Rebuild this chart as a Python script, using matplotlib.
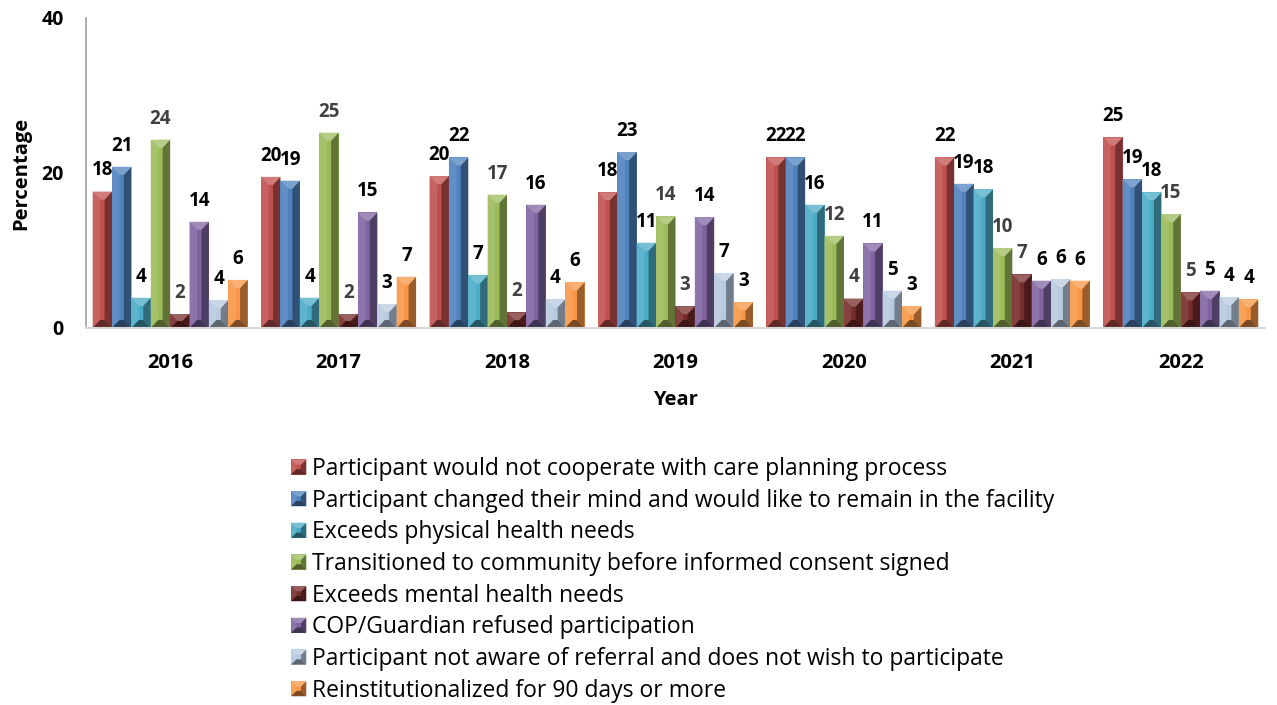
import numpy as np
import matplotlib.pyplot as plt
from matplotlib.patches import Polygon
from matplotlib.legend_handler import HandlerBase
from matplotlib.colors import to_rgb

plt.rcParams['font.family'] = ['Open Sans', 'DejaVu Sans']

years = ['2016', '2017', '2018', '2019', '2020', '2021', '2022']

series = [
    'Participant would not cooperate with care planning process',
    'Participant changed their mind and would like to remain in the facility',
    'Exceeds physical health needs',
    'Transitioned to community before informed consent signed',
    'Exceeds mental health needs',
    'COP/Guardian refused participation',
    'Participant not aware of referral and does not wish to participate',
    'Reinstitutionalized for 90 days or more',
]

not_cooperate = [17.6, 19.5, 19.6, 17.5, 22.0, 22.0, 24.6]
changed_mind = [20.8, 19.0, 22.0, 22.7, 22.0, 18.6, 19.2]
physical = [3.9, 3.9, 6.8, 11.0, 15.9, 17.9, 17.5]
transitioned = [24.3, 25.2, 17.2, 14.4, 11.9, 10.3, 14.7]
mental = [1.8, 1.8, 2.0, 2.8, 3.8, 6.9, 4.6]
cop_refused = [13.7, 14.9, 15.9, 14.3, 10.9, 6.1, 4.8]
not_aware = [3.6, 3.1, 3.7, 7.1, 4.8, 6.3, 4.0]
reinstitutionalized = [6.2, 6.6, 5.9, 3.3, 2.8, 6.1, 3.7]

values = [not_cooperate, changed_mind, physical, transitioned,
          mental, cop_refused, not_aware, reinstitutionalized]

colors = ['#C0504D', '#4F81BD', '#4BACC6', '#9BBB59',
          '#772C2A', '#8064A2', '#B7CADF', '#F79646']
label_colors = ['black', 'black', 'black', '#404040',
                '#404040', 'black', 'black', 'black']


def shade(c, f):
    r, g, b = to_rgb(c)
    if f >= 1:
        return (r + (1 - r) * (f - 1), g + (1 - g) * (f - 1), b + (1 - b) * (f - 1))
    return (r * f, g * f, b * f)


def bevel_faces(x0, y0, x1, y1, dx, dy, c):
    return [
        ([(x0, y0), (x0, y1), (x0 + dx, y1 - dy), (x0 + dx, y0 + dy)], shade(c, 1.1)),
        ([(x1, y0), (x1, y1), (x1 - dx, y1 - dy), (x1 - dx, y0 + dy)], shade(c, 0.62)),
        ([(x0, y1), (x1, y1), (x1 - dx, y1 - dy), (x0 + dx, y1 - dy)], shade(c, 1.25)),
        ([(x0, y0), (x1, y0), (x1 - dx, y0 + dy), (x0 + dx, y0 + dy)], shade(c, 0.5)),
    ]


class BevelHandler(HandlerBase):
    def create_artists(self, legend, orig_handle, xdescent, ydescent,
                       width, height, fontsize, trans):
        c = orig_handle.patches[0].get_facecolor()
        s = min(width, height)
        x0, y0 = -xdescent, -ydescent + (height - s) / 2
        arts = [Polygon([(x0, y0), (x0 + s, y0), (x0 + s, y0 + s), (x0, y0 + s)],
                        closed=True, facecolor=c, edgecolor='none', transform=trans)]
        for pts, fc in bevel_faces(x0, y0, x0 + s, y0 + s, s * 0.35, s * 0.35, c):
            arts.append(Polygon(pts, closed=True, facecolor=fc, edgecolor='none',
                                transform=trans))
        return arts


fig = plt.figure(figsize=(12.77, 7.05), dpi=100)
ax = fig.add_axes([0.0673, 0.5348, 0.9233, 0.4397])

x = np.arange(len(years))
n = len(series)
group_w = 0.92
w = group_w / n

ax.set_xlim(-0.5, len(years) - 0.5)
ax.set_ylim(0, 40)

# pixel -> data scale for bevel
px_x = (ax.get_xlim()[1] - ax.get_xlim()[0]) / (fig.get_figwidth() * fig.dpi * 0.9233)
px_y = 40 / (fig.get_figheight() * fig.dpi * 0.4397)

handles = []
for i in range(n):
    pos = x - group_w / 2 + w * (i + 0.5)
    bars = ax.bar(pos, values[i], width=w, color=colors[i], edgecolor='none',
                  label=series[i])
    handles.append(bars)
    for b in bars:
        x0, x1 = b.get_x(), b.get_x() + b.get_width()
        y1 = b.get_height()
        dx = 7.5 * px_x
        dy = min(8 * px_y, y1 / 2)
        for pts, fc in bevel_faces(x0, 0, x1, y1, dx, dy, colors[i]):
            ax.add_patch(Polygon(pts, closed=True, facecolor=fc, edgecolor='none'))
    for b, v in zip(bars, values[i]):
        ax.annotate(f'{v:.0f}', (b.get_x() + b.get_width() / 2, b.get_height()),
                    xytext=(0, 8), textcoords='offset points', ha='center', va='bottom',
                    fontsize=13.5, fontweight='bold', color=label_colors[i])

ax.set_xticks(x)
ax.set_xticklabels(years, fontsize=14.5, fontweight='bold')
ax.set_yticks([0, 20, 40])
ax.set_yticklabels(['0', '20', '40'], fontsize=14, fontweight='bold')
ax.tick_params(axis='x', length=0, pad=18)
ax.tick_params(axis='y', length=0, pad=16)
for s in ['top', 'right']:
    ax.spines[s].set_visible(False)
ax.spines['left'].set_color('#A0A0A0')
ax.spines['left'].set_linewidth(1.2)
ax.spines['bottom'].set_color('#D9D9D9')
ax.spines['bottom'].set_linewidth(1.5)
ax.set_xlabel('Year', fontsize=14.5, fontweight='bold', labelpad=12)
ax.set_ylabel('Percentage', fontsize=14.5, fontweight='bold', labelpad=7)

fig.legend(handles, series, loc='upper left', bbox_to_anchor=(0.228, 1 - 457 / 705),
           frameon=False, fontsize=16.5, handlelength=0.66, handleheight=0.66,
           handletextpad=0.25, labelspacing=0.335, borderpad=0, borderaxespad=0,
           handler_map={type(handles[0]): BevelHandler()})

fig.savefig('out.png', dpi=100)
